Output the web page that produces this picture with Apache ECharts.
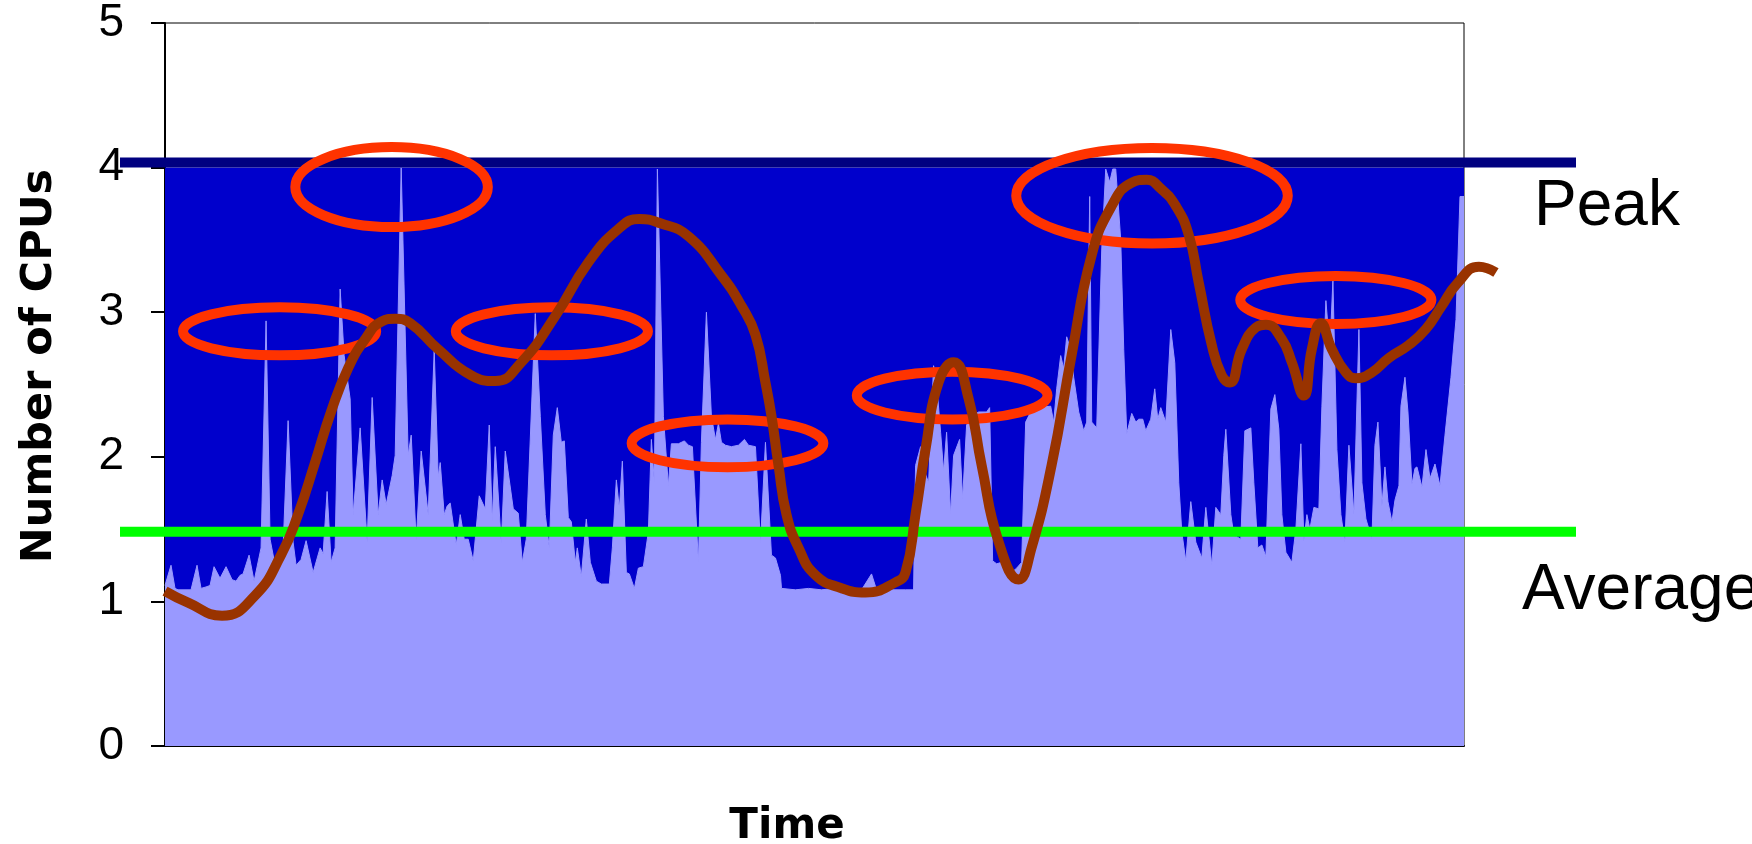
<!DOCTYPE html>
<html>
<head>
<meta charset="utf-8">
<script src="https://cdn.jsdelivr.net/npm/echarts@6/dist/echarts.min.js"></script>
<style>
html,body{margin:0;padding:0;background:#fff;}
#chart{width:1752px;height:844px;}
</style>
</head>
<body>
<div id="chart"></div>
<script>
// ---- data ----
const timeIdx = [0,6,10,13,26,32,36,41,45,49,55,61,67,71,75,78,84,89,96,101,105,110,118,123,128,131,136,141,148,155,158,162,166,170,175,179,185,188,195,202,207,213,217,221,227,230,236,243,246,251,256,263,269,273,275,279,282,285,291,295,299,303,308,314,320,324,327,330,336,340,348,353,357,361,370,375,380,384,388,392,396,399,403,406,410,412,416,421,425,431,436,444,447,451,454,457,461,464,469,473,478,483,486,489,492,498,503,506,513,519,523,527,533,536,541,546,550,553,556,560,566,573,579,583,590,595,600,606,610,615,616,630,643,656,670,683,696,706,711,726,740,748,750,755,758,763,768,771,775,778,781,785,788,794,797,801,806,813,821,824,827,831,836,841,846,851,856,860,865,871,885,888,891,895,898,901,905,908,913,918,921,924,926,931,936,940,944,947,950,955,958,961,966,970,973,977,980,985,989,992,995,1000,1005,1009,1013,1016,1020,1025,1030,1036,1040,1046,1050,1055,1058,1060,1065,1068,1075,1079,1085,1088,1092,1096,1100,1105,1109,1113,1116,1120,1126,1130,1135,1138,1141,1144,1148,1153,1156,1160,1164,1167,1171,1175,1179,1183,1188,1193,1196,1200,1206,1209,1212,1216,1219,1222,1226,1229,1233,1235,1239,1242,1246,1249,1251,1256,1260,1264,1269,1274,1279,1285,1290,1294,1298];
const cpuUsage = [1.11,1.25,1.09,1.08,1.08,1.25,1.09,1.10,1.11,1.24,1.16,1.24,1.15,1.14,1.18,1.19,1.32,1.14,1.37,2.94,1.43,1.25,1.37,2.25,1.41,1.25,1.29,1.42,1.20,1.37,1.33,1.76,1.27,1.37,3.16,2.70,2.40,1.60,2.20,1.41,2.41,1.60,1.84,1.67,1.87,2.01,4.00,2.01,2.15,1.42,2.04,1.60,2.74,1.86,1.96,1.60,1.66,1.68,1.39,1.60,1.43,1.43,1.28,1.73,1.64,2.22,1.55,2.07,1.40,2.04,1.64,1.61,1.27,1.43,2.99,2.28,1.60,1.37,2.15,2.34,2.10,2.11,1.58,1.55,1.27,1.37,1.17,1.57,1.27,1.14,1.12,1.12,1.37,1.84,1.64,1.97,1.20,1.19,1.09,1.23,1.24,1.48,2.12,1.82,3.99,2.28,1.80,2.09,2.09,2.11,2.08,2.07,1.27,2.10,3.00,2.28,2.12,2.23,2.10,2.08,2.07,2.08,2.12,2.08,2.07,1.40,2.10,1.32,1.30,1.18,1.09,1.08,1.09,1.08,1.09,1.08,1.08,1.19,1.08,1.08,1.08,1.08,1.94,2.07,1.92,1.82,2.63,2.51,2.17,1.90,2.17,1.60,2.01,2.12,1.71,2.22,2.28,2.31,2.31,2.34,1.28,1.26,1.27,1.25,1.20,1.23,1.27,2.24,2.31,2.34,2.35,2.24,2.47,2.70,2.61,2.83,2.74,2.55,2.31,2.18,2.24,3.80,2.24,2.20,3.43,3.99,3.90,3.99,3.99,3.50,2.74,2.16,2.30,2.24,2.26,2.26,2.18,2.26,2.47,2.26,2.34,2.24,2.88,2.65,1.82,1.48,1.28,1.69,1.41,1.30,1.65,1.25,1.65,1.60,2.01,2.19,1.60,1.46,1.43,2.18,2.20,1.82,1.37,1.39,1.31,2.33,2.43,2.19,1.60,1.34,1.27,1.50,2.09,1.42,1.60,1.50,1.65,1.64,2.35,3.08,2.74,3.22,2.05,1.60,1.41,2.08,1.60,2.88,1.82,1.57,1.43,2.08,2.24,1.66,1.93,1.69,1.55,1.70,1.80,2.35,2.55,2.31,1.81,1.92,1.93,1.79,2.05,1.85,1.95,1.80,2.15,2.55,2.95,3.80,3.80];

// hand-drawn trend curve
const trendT = [0,23,57,90,116,133,150,166,183,200,216,230,245,273,306,330,356,390,423,453,474,495,523,556,576,590,600,606,613,621,633,650,676,700,730,740,750,760,773,788,803,816,833,853,866,886,906,926,946,966,981,995,1010,1023,1033,1046,1056,1064,1076,1090,1100,1116,1126,1138,1146,1155,1166,1180,1190,1206,1223,1243,1260,1275,1292,1313,1330];
const trendV = [1.07,0.99,0.90,1.04,1.32,1.60,1.96,2.31,2.61,2.81,2.93,2.95,2.92,2.74,2.56,2.52,2.65,2.97,3.34,3.57,3.64,3.61,3.52,3.25,3.04,2.84,2.51,2.28,1.94,1.60,1.37,1.18,1.09,1.06,1.13,1.20,1.60,2.05,2.51,2.65,2.40,1.94,1.41,1.15,1.37,1.94,2.70,3.39,3.73,3.89,3.91,3.85,3.73,3.53,3.20,2.77,2.56,2.51,2.74,2.89,2.91,2.81,2.65,2.42,2.74,2.92,2.74,2.58,2.54,2.58,2.68,2.77,2.88,3.03,3.20,3.31,3.27];

const capacityLevel = 4;
const peakLevel = 4.03;
const averageLevel = 1.48;
const refLineSpan = [-45, 1410];
const timeRange = [0, 1298];

// ellipse highlights: centre time, centre CPUs, half-width (time), half-height (CPUs)
const highlightCentreT = [226.4, 114.5, 386.6, 562.1, 786.6, 986.3, 1170];
const highlightCentreV = [3.86, 2.864, 2.864, 2.09, 2.42, 3.80, 3.08];
const highlightHalfT = [96.2, 96.5, 96, 95.8, 95.3, 135.7, 95.5];
const highlightHalfV = [0.276, 0.166, 0.166, 0.165, 0.165, 0.33, 0.166];

const yLabel = 'Number of CPUs';
const xLabel = 'Time';
const peakText = 'Peak';
const averageText = 'Average';

// ---- chart ----
const chart = echarts.init(document.getElementById('chart'), null, {renderer: 'canvas'});

const usageData = timeIdx.map((t, i) => [t, cpuUsage[i]]);
const trendData = trendT.map((t, i) => [t, trendV[i]]);
const ellipseData = highlightCentreT.map((t, i) => [t, highlightCentreV[i], highlightHalfT[i], highlightHalfV[i]]);

const option = {
  animation: false,
  backgroundColor: '#ffffff',
  grid: [
    {left: 165, top: 22, width: 1299, height: 724,
     show: true, borderColor: '#000', borderWidth: 1, backgroundColor: '#ffffff'},
    // overlay frame for the annotation marks that run past the plot edges
    {left: 120, top: 22, width: 1456, height: 724, show: false}
  ],
  xAxis: [
    {type: 'value', gridIndex: 0, min: timeRange[0], max: timeRange[1],
     axisLine: {show: true, lineStyle: {color: '#000', width: 2}},
     axisTick: {show: false}, axisLabel: {show: false}, splitLine: {show: false}},
    {type: 'value', gridIndex: 1, min: refLineSpan[0], max: refLineSpan[1], show: false}
  ],
  yAxis: [
    {type: 'value', gridIndex: 0, min: 0, max: 5, interval: 1,
     axisLine: {show: true, lineStyle: {color: '#000', width: 2}},
     axisTick: {show: true, length: 14, lineStyle: {color: '#000', width: 2}},
     axisLabel: {fontSize: 46, fontFamily: 'Liberation Sans, Arial, sans-serif', color: '#000', margin: 41},
     splitLine: {show: false}},
    {type: 'value', gridIndex: 1, min: 0, max: 5, show: false}
  ],
  series: [
    {
      type: 'line', z: 1, silent: true, symbol: 'none',
      data: [[timeRange[0], capacityLevel], [timeRange[1], capacityLevel]],
      lineStyle: {width: 0, color: '#0000CC'},
      areaStyle: {color: '#0000CC', opacity: 1}
    },
    {
      type: 'line', z: 2, silent: true, symbol: 'none',
      data: usageData,
      lineStyle: {width: 1, color: '#9999FF'},
      areaStyle: {color: '#9999FF', opacity: 1}
    },
    {
      type: 'line', z: 3, silent: true, symbol: 'none', clip: false,
      xAxisIndex: 1, yAxisIndex: 1,
      data: [[refLineSpan[0], peakLevel], [refLineSpan[1], peakLevel]],
      lineStyle: {width: 10, color: '#000080'}
    },
    {
      type: 'line', z: 4, silent: true, symbol: 'none', clip: false,
      xAxisIndex: 1, yAxisIndex: 1,
      data: [[refLineSpan[0], averageLevel], [refLineSpan[1], averageLevel]],
      lineStyle: {width: 10, color: '#00FF00'}
    },
    {
      type: 'custom', z: 5, silent: true, clip: false,
      xAxisIndex: 1, yAxisIndex: 1,
      data: ellipseData,
      encode: {x: 0, y: 1},
      renderItem: function (params, api) {
        const c = api.coord([api.value(0), api.value(1)]);
        const s = api.size([api.value(2), api.value(3)]);
        return {
          type: 'ellipse',
          shape: {cx: c[0], cy: c[1], rx: s[0], ry: s[1]},
          style: {fill: 'none', stroke: '#FF3300', lineWidth: 10}
        };
      }
    },
    {
      type: 'line', z: 6, silent: true, symbol: 'none', clip: false,
      xAxisIndex: 1, yAxisIndex: 1,
      smooth: 0.5,
      data: trendData,
      lineStyle: {width: 10, color: '#993300', join: 'round'}
    }
  ],
  graphic: [
    {type: 'text', x: 40, y: 366, rotation: Math.PI / 2,
     style: {text: yLabel, fontSize: 43, fontWeight: 'bold', fontFamily: 'DejaVu Sans', fill: '#000', align: 'center', verticalAlign: 'middle'}},
    {type: 'text', x: 787, y: 827,
     style: {text: xLabel, fontSize: 42, fontWeight: 'bold', fontFamily: 'DejaVu Sans', fill: '#000', align: 'center', verticalAlign: 'middle'}},
    {type: 'text', x: 1534, y: 207,
     style: {text: peakText, fontSize: 64, fontFamily: 'Liberation Sans', fill: '#000', align: 'left', verticalAlign: 'middle'}},
    {type: 'text', x: 1522, y: 591,
     style: {text: averageText, fontSize: 64, fontFamily: 'Liberation Sans', fill: '#000', align: 'left', verticalAlign: 'middle'}}
  ]
};

chart.setOption(option);
</script>
</body>
</html>
